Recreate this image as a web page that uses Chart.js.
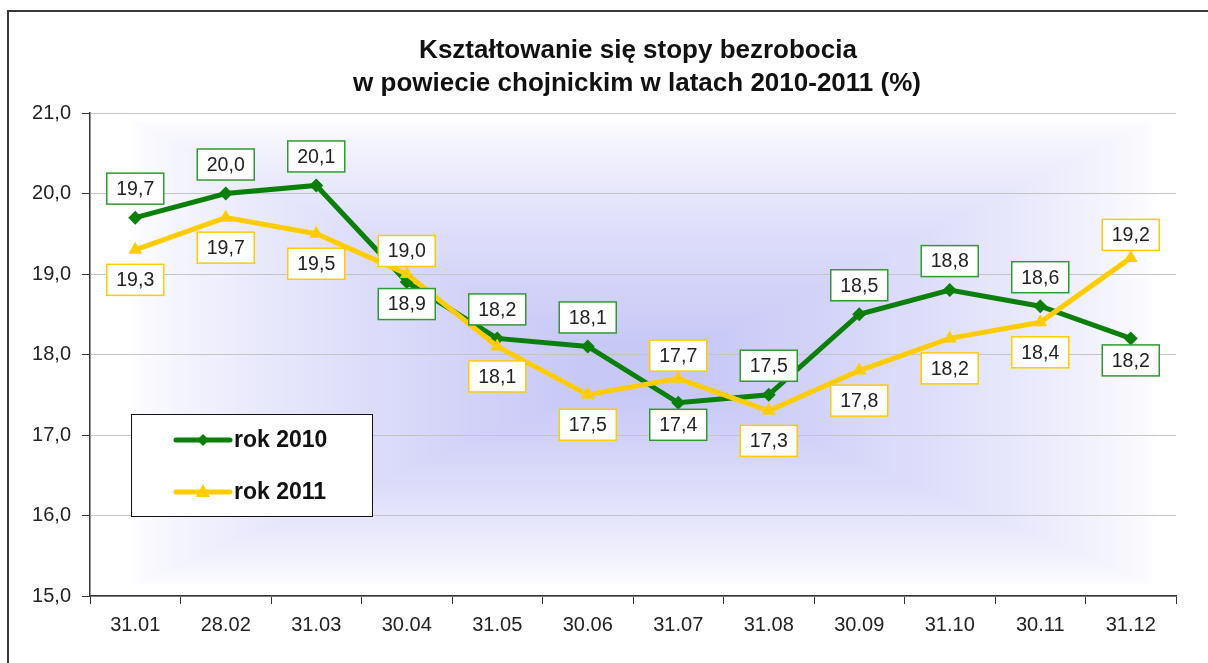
<!DOCTYPE html>
<html>
<head>
<meta charset="utf-8">
<script src="https://cdn.jsdelivr.net/npm/chart.js@4"></script>
<style>
  html, body { margin: 0; padding: 0; background: #fff; }
  #wrap { position: absolute; left: 0; top: 0; width: 1208px; height: 663px; }
</style>
</head>
<body>
<div id="wrap"><canvas id="chart" width="1208" height="663"></canvas></div>
<script>
// dane
const months = ['31.01', '28.02', '31.03', '30.04', '31.05', '30.06', '31.07', '31.08', '30.09', '31.10', '30.11', '31.12'];
const rate2010 = [19.7, 20.0, 20.1, 18.9, 18.2, 18.1, 17.4, 17.5, 18.5, 18.8, 18.6, 18.2];
const rate2011 = [19.3, 19.7, 19.5, 19.0, 18.1, 17.5, 17.7, 17.3, 17.8, 18.2, 18.4, 19.2];
const yTicks = [15, 16, 17, 18, 19, 20, 21];
const titleLines = ['Kształtowanie się stopy bezrobocia', 'w powiecie chojnickim w latach 2010-2011 (%)'];

// gdzie stoi etykieta (nad / pod punktem)
const labelSide2010 = ['up', 'up', 'up', 'down', 'up', 'up', 'down', 'up', 'up', 'up', 'up', 'down'];
const labelSide2011 = ['down', 'down', 'down', 'up', 'down', 'down', 'up', 'down', 'down', 'down', 'down', 'up'];

const green = '#0a7f0a';
const gold = '#ffcc00';
const fontFam = '"Liberation Sans", Arial, sans-serif';

const fmt = (v) => v.toFixed(1).replace('.', ',');

// tło, ramka i tytuł
const bgPlugin = {
    id: 'bgPlugin',
    beforeDraw(chart) {
        const ctx = chart.ctx;
        const a = chart.chartArea;
        ctx.save();
        ctx.fillStyle = '#fff';
        ctx.fillRect(0, 0, chart.width, chart.height);
        // ramka wykresu (lewa i górna krawędź)
        ctx.strokeStyle = '#3a3a3a';
        ctx.lineWidth = 2;
        ctx.beginPath();
        ctx.moveTo(8, 700);
        ctx.lineTo(8, 11);
        ctx.lineTo(1210, 11);
        ctx.stroke();

        // gradient od środka (prostokątny)
        const outer = { l: a.left + 40, r: a.right - 20, t: a.top + 6, b: a.bottom - 10 };
        const cx = 640, cy = 370;
        const steps = 100;
        for (let i = 0; i <= steps; i++) {
            const t = i / steps;
            const l = outer.l + (cx - 60 - outer.l) * t;
            const r = outer.r + (cx + 60 - outer.r) * t;
            const tp = outer.t + (cy - 25 - outer.t) * t;
            const b = outer.b + (cy + 25 - outer.b) * t;
            const k = Math.pow(t, 0.75);
            const rr = Math.round(254 - (254 - 200) * k);
            const gg = Math.round(254 - (254 - 200) * k);
            const bb = Math.round(255 - (255 - 247) * k);
            ctx.fillStyle = `rgb(${rr},${gg},${bb})`;
            ctx.fillRect(l, tp, r - l, b - tp);
        }

        // tytuł
        ctx.fillStyle = '#111';
        ctx.font = 'bold 26px ' + fontFam;
        ctx.textAlign = 'center';
        ctx.textBaseline = 'middle';
        ctx.fillText(titleLines[0], 638, 51);
        ctx.fillText(titleLines[1], 637, 84);
        ctx.restore();
    }
};

// etykiety danych w ramkach
const boxLabels = {
    id: 'boxLabels',
    afterDatasetsDraw(chart) {
        const ctx = chart.ctx;
        ctx.save();
        ctx.font = '19.5px ' + fontFam;
        ctx.textAlign = 'center';
        ctx.textBaseline = 'middle';
        chart.data.datasets.forEach((ds, di) => {
            const meta = chart.getDatasetMeta(di);
            meta.data.forEach((pt, i) => {
                const side = ds.labelSide[i];
                const cy = side === 'up' ? pt.y - ds.labelUp : pt.y + ds.labelDown;
                const w = 57, h = 31;
                ctx.fillStyle = '#fff';
                ctx.fillRect(pt.x - w / 2, cy - h / 2, w, h);
                ctx.strokeStyle = ds.labelBorder;
                ctx.lineWidth = 1.5;
                ctx.strokeRect(pt.x - w / 2, cy - h / 2, w, h);
                ctx.fillStyle = '#222';
                ctx.fillText(fmt(ds.data[i]), pt.x, cy + 1);
            });
        });
        ctx.restore();
    }
};

// legenda w obszarze wykresu
const boxLegend = {
    id: 'boxLegend',
    afterDraw(chart) {
        const ctx = chart.ctx;
        ctx.save();
        ctx.fillStyle = '#fff';
        ctx.fillRect(131, 414, 241, 102);
        ctx.strokeStyle = '#111';
        ctx.lineWidth = 1;
        ctx.strokeRect(131.5, 414.5, 241, 102);
        const rows = [
            { ds: chart.data.datasets[0], y: 440 },
            { ds: chart.data.datasets[1], y: 492 }
        ];
        rows.forEach((row) => {
            ctx.strokeStyle = row.ds.borderColor;
            ctx.lineWidth = 5;
            ctx.lineCap = 'round';
            ctx.beginPath();
            ctx.moveTo(176, row.y);
            ctx.lineTo(230, row.y);
            ctx.stroke();
            ctx.fillStyle = row.ds.borderColor;
            ctx.beginPath();
            if (row.ds.pointStyle === 'rectRot') {
                ctx.moveTo(203, row.y - 6);
                ctx.lineTo(209, row.y);
                ctx.lineTo(203, row.y + 6);
                ctx.lineTo(197, row.y);
            } else {
                ctx.moveTo(203, row.y - 8);
                ctx.lineTo(210, row.y + 5);
                ctx.lineTo(196, row.y + 5);
            }
            ctx.closePath();
            ctx.fill();
            ctx.fillStyle = '#111';
            ctx.font = 'bold 23px ' + fontFam;
            ctx.textAlign = 'left';
            ctx.textBaseline = 'middle';
            ctx.fillText(row.ds.label, 234, row.y + 1);
        });
        ctx.restore();
    }
};

const ctx = document.getElementById('chart').getContext('2d');

new Chart(ctx, {
    type: 'line',
    data: {
        labels: months,
        datasets: [{
            label: 'rok 2010',
            data: rate2010,
            borderColor: green,
            backgroundColor: green,
            borderWidth: 5,
            pointStyle: 'rectRot',
            pointRadius: 7,
            pointBorderWidth: 0,
            tension: 0,
            order: 1,
            labelSide: labelSide2010,
            labelUp: 29,
            labelDown: 22,
            labelBorder: '#2f9a2f'
        }, {
            label: 'rok 2011',
            data: rate2011,
            borderColor: gold,
            backgroundColor: gold,
            borderWidth: 5,
            pointStyle: 'triangle',
            pointRadius: 8,
            pointBorderWidth: 0,
            tension: 0,
            order: 0,
            labelSide: labelSide2011,
            labelUp: 23,
            labelDown: 30,
            labelBorder: gold
        }]
    },
    options: {
        responsive: false,
        animation: false,
        devicePixelRatio: 1,
        layout: { padding: { left: 0, right: 32, top: 113, bottom: 0 } },
        plugins: {
            legend: { display: false },
            tooltip: { enabled: false },
            title: { display: false }
        },
        scales: {
            x: {
                offset: true,
                grid: {
                    offset: true,
                    drawOnChartArea: false,
                    drawTicks: true,
                    tickLength: 8,
                    tickColor: '#333'
                },
                border: { color: '#333', width: 1.5 },
                ticks: {
                    color: '#222',
                    font: { family: fontFam, size: 20 },
                    padding: 9,
                    maxRotation: 0
                },
                afterFit(scale) { scale.height = 67; }
            },
            y: {
                min: 15,
                max: 21,
                afterBuildTicks(scale) { scale.ticks = yTicks.map(v => ({ value: v })); },
                grid: {
                    color: '#c4c4c4',
                    lineWidth: 1,
                    tickLength: 8,
                    tickColor: '#333'
                },
                border: { color: '#333', width: 1.5 },
                ticks: {
                    color: '#222',
                    font: { family: fontFam, size: 20 },
                    padding: 11,
                    callback: (v) => fmt(v)
                },
                afterFit(scale) { scale.width = 90; }
            }
        }
    },
    plugins: [bgPlugin, boxLabels, boxLegend]
});
</script>
</body>
</html>
